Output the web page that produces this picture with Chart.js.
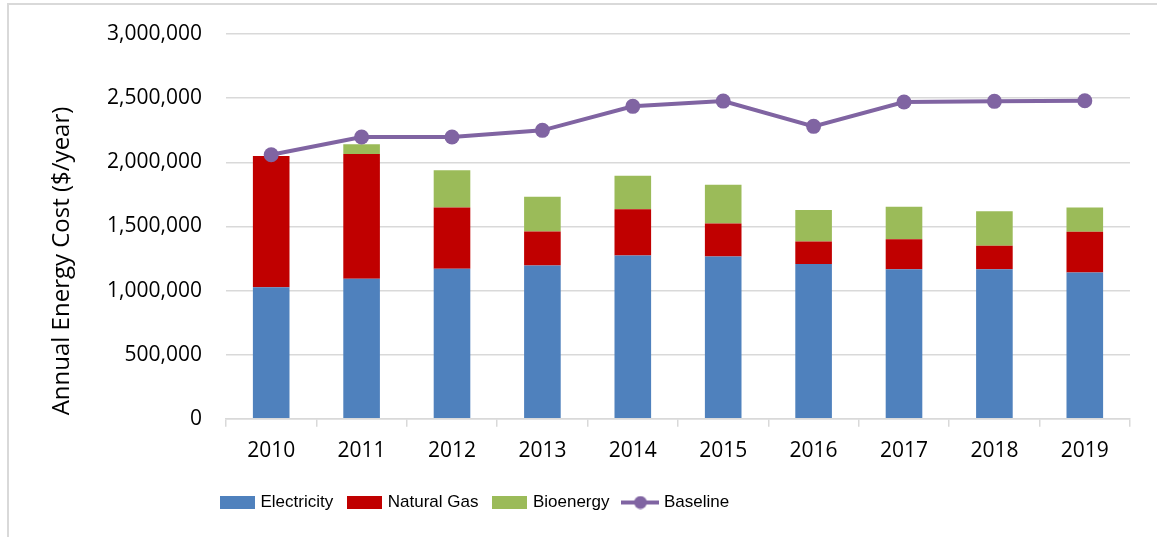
<!DOCTYPE html>
<html>
<head>
<meta charset="utf-8">
<script src="https://cdn.jsdelivr.net/npm/chart.js@4.4.1/dist/chart.umd.min.js"></script>
<style>
  html, body { margin: 0; padding: 0; background: #fff; }
  #frame {
    position: absolute; left: 7px; top: 3px;
    width: 1150px; height: 534px;
    border-left: 2px solid #d9d9d9; border-top: 2px solid #d9d9d9;
  }
</style>
</head>
<body>
<div id="frame"><canvas id="chart" width="1150" height="534"></canvas></div>
<script>
const years = ['2010', '2011', '2012', '2013', '2014', '2015', '2016', '2017', '2018', '2019'];
const electricity = [1026000, 1092000, 1170000, 1196000, 1274000, 1266000, 1206000, 1165000, 1165000, 1141000];
const naturalGas = [1022000, 972000, 478000, 265000, 359000, 257000, 177000, 234000, 184000, 318000];
const bioenergy = [0, 76000, 289000, 271000, 262000, 302000, 244000, 255000, 270000, 189000];
const baseline = [2059000, 2197000, 2197000, 2249000, 2436000, 2477000, 2280000, 2470000, 2475000, 2480000];

const yTitle = 'Annual Energy Cost ($/year)';
const font = "'Open Sans', 'Liberation Sans', sans-serif";
const legendFont = "'Liberation Sans', Arial, sans-serif";

// little images for the legend keys
function boxKey(color) {
    const c = document.createElement('canvas');
    c.width = 35; c.height = 13;
    const ctx = c.getContext('2d');
    ctx.fillStyle = color;
    ctx.fillRect(0, 0, 35, 13);
    return c;
}

function lineKey(color) {
    const c = document.createElement('canvas');
    c.width = 38; c.height = 14;
    const ctx = c.getContext('2d');
    ctx.strokeStyle = color;
    ctx.lineWidth = 4;
    ctx.beginPath();
    ctx.moveTo(0, 7); ctx.lineTo(38, 7);
    ctx.stroke();
    ctx.fillStyle = color;
    ctx.beginPath();
    ctx.arc(19, 7, 6.5, 0, Math.PI * 2);
    ctx.fill();
    return c;
}

const keys = [boxKey('#4f81bd'), boxKey('#c00000'), boxKey('#9bbb59'), lineKey('#8064a2')];

// y title drawn by hand so it can sit lower like the original
const yTitlePlugin = {
    id: 'yTitle',
    afterDraw(chart) {
        const ctx = chart.ctx;
        ctx.save();
        ctx.translate(53, 256);
        ctx.rotate(-Math.PI / 2);
        ctx.font = '24px ' + font;
        ctx.fillStyle = '#000';
        ctx.textAlign = 'center';
        ctx.textBaseline = 'middle';
        ctx.fillText(yTitle, 0, 0);
        ctx.restore();
    }
};

// move the legend so it starts under the first category, like the original
const legendShift = {
    id: 'legendShift',
    afterUpdate(chart) {
        const lg = chart.legend;
        const w = lg.right - lg.left;
        lg.left = 213 - lg.options.labels.padding;
        lg.right = lg.left + w;
    }
};

new Chart(document.getElementById('chart').getContext('2d'), {
    type: 'bar',
    data: {
        labels: years,
        datasets: [
            {label: 'Electricity', data: electricity, backgroundColor: '#4f81bd', order: 1},
            {label: 'Natural Gas', data: naturalGas, backgroundColor: '#c00000', order: 1},
            {label: 'Bioenergy', data: bioenergy, backgroundColor: '#9bbb59', order: 1},
            {
                label: 'Baseline',
                type: 'line',
                data: baseline,
                borderColor: '#8064a2',
                backgroundColor: '#8064a2',
                borderWidth: 4,
                pointRadius: 7.5,
                pointBorderWidth: 0,
                stack: 'line',
                order: 0
            }
        ]
    },
    options: {
        responsive: false,
        animation: false,
        categoryPercentage: 1,
        barPercentage: 0.405,
        layout: {padding: {top: 29, right: 29, bottom: 18, left: 0}},
        scales: {
            x: {
                stacked: true,
                grid: {
                    offset: true,
                    drawOnChartArea: false,
                    drawTicks: true,
                    tickLength: 8,
                    color: '#d9d9d9',
                    lineWidth: 1.5
                },
                border: {color: '#d9d9d9', width: 1.5},
                ticks: {
                    padding: 12,
                    color: '#000',
                    font: {family: font, size: 21}
                },
                afterFit(scale) { scale.height += 2; }
            },
            y: {
                stacked: true,
                min: 0,
                max: 3000000,
                // invisible tick marks give the gap between labels and plot
                grid: {color: '#d9d9d9', lineWidth: 1.5, drawTicks: true, tickLength: 24, tickColor: 'rgba(0,0,0,0)'},
                border: {display: false},
                ticks: {
                    stepSize: 500000,
                    padding: 0,
                    color: '#000',
                    font: {family: font, size: 21},
                    callback: v => v.toLocaleString('en-US')
                },
                afterFit(scale) { scale.width = 217; }
            }
        },
        plugins: {
            legend: {
                position: 'bottom',
                align: 'start',
                labels: {
                    usePointStyle: true,
                    pointStyleWidth: 30,
                    boxHeight: 13,
                    padding: 16,
                    color: '#000',
                    font: {family: legendFont, size: 17},
                    generateLabels(chart) {
                        const items = Chart.defaults.plugins.legend.labels.generateLabels(chart);
                        items.forEach(it => { it.pointStyle = keys[it.datasetIndex]; });
                        return items;
                    },
                    sort: (a, b) => a.datasetIndex - b.datasetIndex
                }
            },
            tooltip: {enabled: false}
        }
    },
    plugins: [yTitlePlugin, legendShift]
});
</script>
</body>
</html>
